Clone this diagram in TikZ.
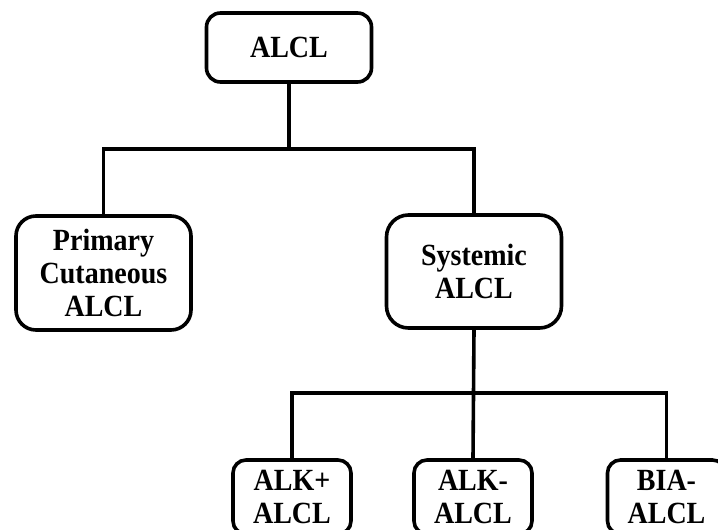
\documentclass[tikz,border=0pt]{standalone}
\usepackage{fontspec}
\usepackage{graphicx}
\setmainfont{Liberation Serif}
\newcommand\tl[1]{\scalebox{1}[1.1]{#1}}
\begin{document}
\begin{tikzpicture}[x=1pt,y=-1pt,
  box/.style={draw=black, line width=3.6pt, fill=white, inner sep=0pt, align=center,
    font=\fontsize{28}{33}\selectfont\bfseries, rounded corners=#1},
  box/.default=14pt,
  conn/.style={draw=black, line width=3.6pt}]
\useasboundingbox (0,0) rectangle (718,530);
\clip (0,0) rectangle (718,530);
\node[box=14pt, minimum width=165pt, minimum height=69pt] (root) at (289,47.5) {\tl{ALCL}};
\node[box=20pt, minimum width=175pt, minimum height=114pt] (prim) at (103.5,273) {\tl{Primary}\\\tl{Cutaneous}\\\tl{ALCL}};
\node[box=22pt, minimum width=175pt, minimum height=113pt] (sys) at (474,271.5) {\tl{Systemic}\\\tl{ALCL}};
\node[box=13pt, minimum width=118pt, minimum height=74pt] (alkp) at (292,497) {\tl{ALK+}\\\tl{ALCL}};
\node[box=13pt, minimum width=118pt, minimum height=74pt] (alkm) at (473,497) {\tl{ALK-}\\\tl{ALCL}};
\node[box=13pt, minimum width=118pt, minimum height=74pt] (bia) at (666.5,497) {\tl{BIA-}\\\tl{ALCL}};
\draw[conn] (root.south) -- (root.south |- 0,151);
\draw[conn] (prim.north) -- ++(0,-65) -| (sys.north);
\draw[conn] (sys.south) -- (alkm.north);
\draw[conn] (alkp.north) -- ++(0,-65) -| (bia.north);
\end{tikzpicture}
\end{document}
